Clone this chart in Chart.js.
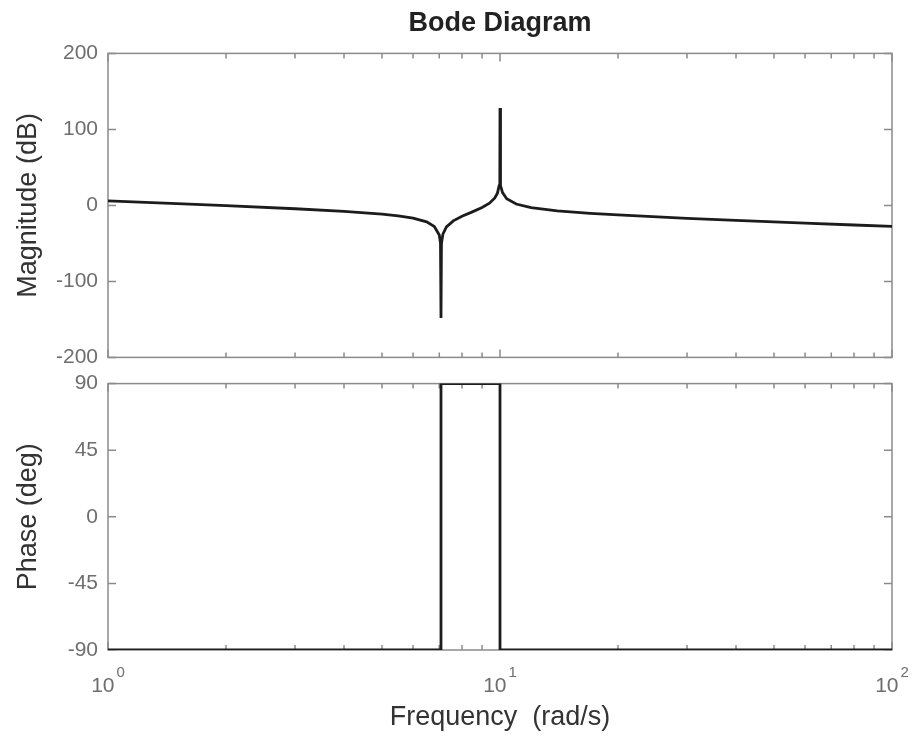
<!DOCTYPE html>
<html>
<head>
<meta charset="utf-8">
<script src="https://cdn.jsdelivr.net/npm/chart.js@4"></script>
<style>
  body { margin: 0; background: #fff; }
  .box { position: absolute; left: 0; width: 916px; }
</style>
</head>
<body>
<div class="box" style="top:0;height:380px"><canvas id="magChart" width="916" height="380"></canvas></div>
<div class="box" style="top:361px;height:378px"><canvas id="phaseChart" width="916" height="378"></canvas></div>
<script>
// 幅频数据 (rad/s, dB)
const magFreq = [1, 1.5, 2, 3, 4, 5, 5.5, 6, 6.5, 6.8, 7.0, 7.05, 7.071, 7.09, 7.15, 7.3, 7.6, 8, 8.5, 9,
                 9.4, 9.7, 9.85, 9.95, 9.99, 10, 10.01, 10.05, 10.15, 10.4, 11, 12, 14, 17, 20, 30, 40, 60, 80, 100];
const magDb = [5.9, 2.3, -0.4, -4.4, -7.9, -11.5, -13.7, -16.7, -21.7, -27.7, -39, -49.5, -148, -50.3, -37.8, -28.3, -20.3, -14.2, -8.5, -2.8,
               2.9, 9.8, 16.1, 25.9, 40, 128, 40, 26.1, 16.8, 8.8, 1.8, -3, -7.2, -10.5, -12.6, -17, -19.7, -23.4, -25.8, -27.5];

// 相频数据 (rad/s, deg)
const phaseFreq = [1, 7.071, 7.071, 10, 10, 100];
const phaseDeg = [-90, -90, 90, 90, -90, -90];

// 刻度
const magTicks = [-200, -100, 0, 100, 200];
const phaseTicks = [-90, -45, 0, 45, 90];
const majorFreq = [1, 10, 100];
const minorFreq = [2, 3, 4, 5, 6, 7, 8, 9, 20, 30, 40, 50, 60, 70, 80, 90];
const xLabelExps = [0, 1, 2];

const AXIS_COLOR = '#8e8a8a';
const TICK_COLOR = '#6e6e6e';
const LABEL_COLOR = '#333333';
const LINE_COLOR = '#1c1c1c';
const FONT = "'Liberation Sans', Arial, sans-serif";

Chart.defaults.font.family = FONT;
Chart.defaults.color = TICK_COLOR;

// 画框和向内的刻度线 (MATLAB 风格)
const frameTicks = {
    id: 'frameTicks',
    beforeDatasetsDraw(chart, args, opts) {
        const {ctx, chartArea: a, scales: {x, y}} = chart;
        ctx.save();
        ctx.strokeStyle = AXIS_COLOR;
        ctx.lineWidth = 1.5;
        ctx.beginPath();
        const xt = (v, len) => {
            const px = x.getPixelForValue(v);
            ctx.moveTo(px, a.top); ctx.lineTo(px, a.top + len);
            ctx.moveTo(px, a.bottom); ctx.lineTo(px, a.bottom - len);
        };
        majorFreq.forEach(v => xt(v, 8));
        minorFreq.forEach(v => xt(v, 5));
        opts.yTicks.forEach(v => {
            const py = y.getPixelForValue(v);
            ctx.moveTo(a.left, py); ctx.lineTo(a.left + 8, py);
            ctx.moveTo(a.right, py); ctx.lineTo(a.right - 8, py);
        });
        ctx.stroke();
        ctx.strokeRect(a.left, a.top, a.width, a.height);
        ctx.restore();
    },
    afterDraw(chart, args, opts) {
        if (!opts.xLabels) return;
        const {ctx, chartArea: a, scales: {x}} = chart;
        ctx.save();
        ctx.fillStyle = TICK_COLOR;
        ctx.textBaseline = 'middle';
        ctx.textAlign = 'left';
        xLabelExps.forEach(e => {
            const px = x.getPixelForValue(Math.pow(10, e));
            ctx.font = '21px ' + FONT;
            const wBase = ctx.measureText('10').width;
            ctx.font = '15px ' + FONT;
            const wExp = ctx.measureText(String(e)).width;
            const x0 = px - (wBase + wExp + 2) / 2;
            ctx.font = '21px ' + FONT;
            ctx.fillText('10', x0, a.bottom + 36);
            ctx.font = '15px ' + FONT;
            ctx.fillText(String(e), x0 + wBase + 2, a.bottom + 23);
        });
        ctx.restore();
    }
};

function yAxis(min, max, ticks, title) {
    return {
        min: min, max: max,
        grid: {display: false, drawTicks: false},
        border: {display: false},
        afterBuildTicks: s => { s.ticks = ticks.map(v => ({value: v})); },
        ticks: {padding: 10, color: TICK_COLOR, font: {size: 21}},
        title: {display: true, text: title, color: LABEL_COLOR, font: {size: 27}, padding: {top: 12, bottom: 0}},
        afterFit: s => { s.width = 108; }
    };
}

function line(xs, ys) {
    return {
        data: xs.map((f, i) => ({x: f, y: ys[i]})),
        borderColor: LINE_COLOR,
        borderWidth: 2.8,
        pointRadius: 0,
        showLine: true,
        tension: 0
    };
}

new Chart(document.getElementById('magChart'), {
    type: 'scatter',
    data: {datasets: [line(magFreq, magDb)]},
    options: {
        responsive: false,
        animation: false,
        layout: {padding: {left: 0, right: 24, top: 0, bottom: 0}},
        plugins: {
            legend: {display: false},
            tooltip: {enabled: false},
            title: {
                display: true,
                text: 'Bode Diagram',
                fullSize: false,
                color: '#222',
                font: {size: 27, weight: 'bold'},
                padding: {top: 7, bottom: 14}
            },
            frameTicks: {yTicks: magTicks, xLabels: false}
        },
        scales: {
            x: {
                type: 'logarithmic', min: 1, max: 100,
                grid: {display: false, drawTicks: false},
                border: {display: false},
                ticks: {display: false},
                afterFit: s => { s.height = 3; }
            },
            y: yAxis(-200, 200, magTicks, 'Magnitude (dB)')
        }
    },
    plugins: [frameTicks]
});

new Chart(document.getElementById('phaseChart'), {
    type: 'scatter',
    data: {datasets: [line(phaseFreq, phaseDeg)]},
    options: {
        responsive: false,
        animation: false,
        layout: {padding: {left: 0, right: 24, top: 3, bottom: 0}},
        plugins: {
            legend: {display: false},
            tooltip: {enabled: false},
            frameTicks: {yTicks: phaseTicks, xLabels: true}
        },
        scales: {
            x: {
                type: 'logarithmic', min: 1, max: 100,
                grid: {display: false, drawTicks: false},
                border: {display: false},
                ticks: {display: false},
                title: {display: true, text: 'Frequency  (rad/s)', color: LABEL_COLOR, font: {size: 27}, padding: {top: 0, bottom: 5}},
                afterFit: s => { s.height = 89; }
            },
            y: yAxis(-90, 90, phaseTicks, 'Phase (deg)')
        }
    },
    plugins: [frameTicks]
});
</script>
</body>
</html>
